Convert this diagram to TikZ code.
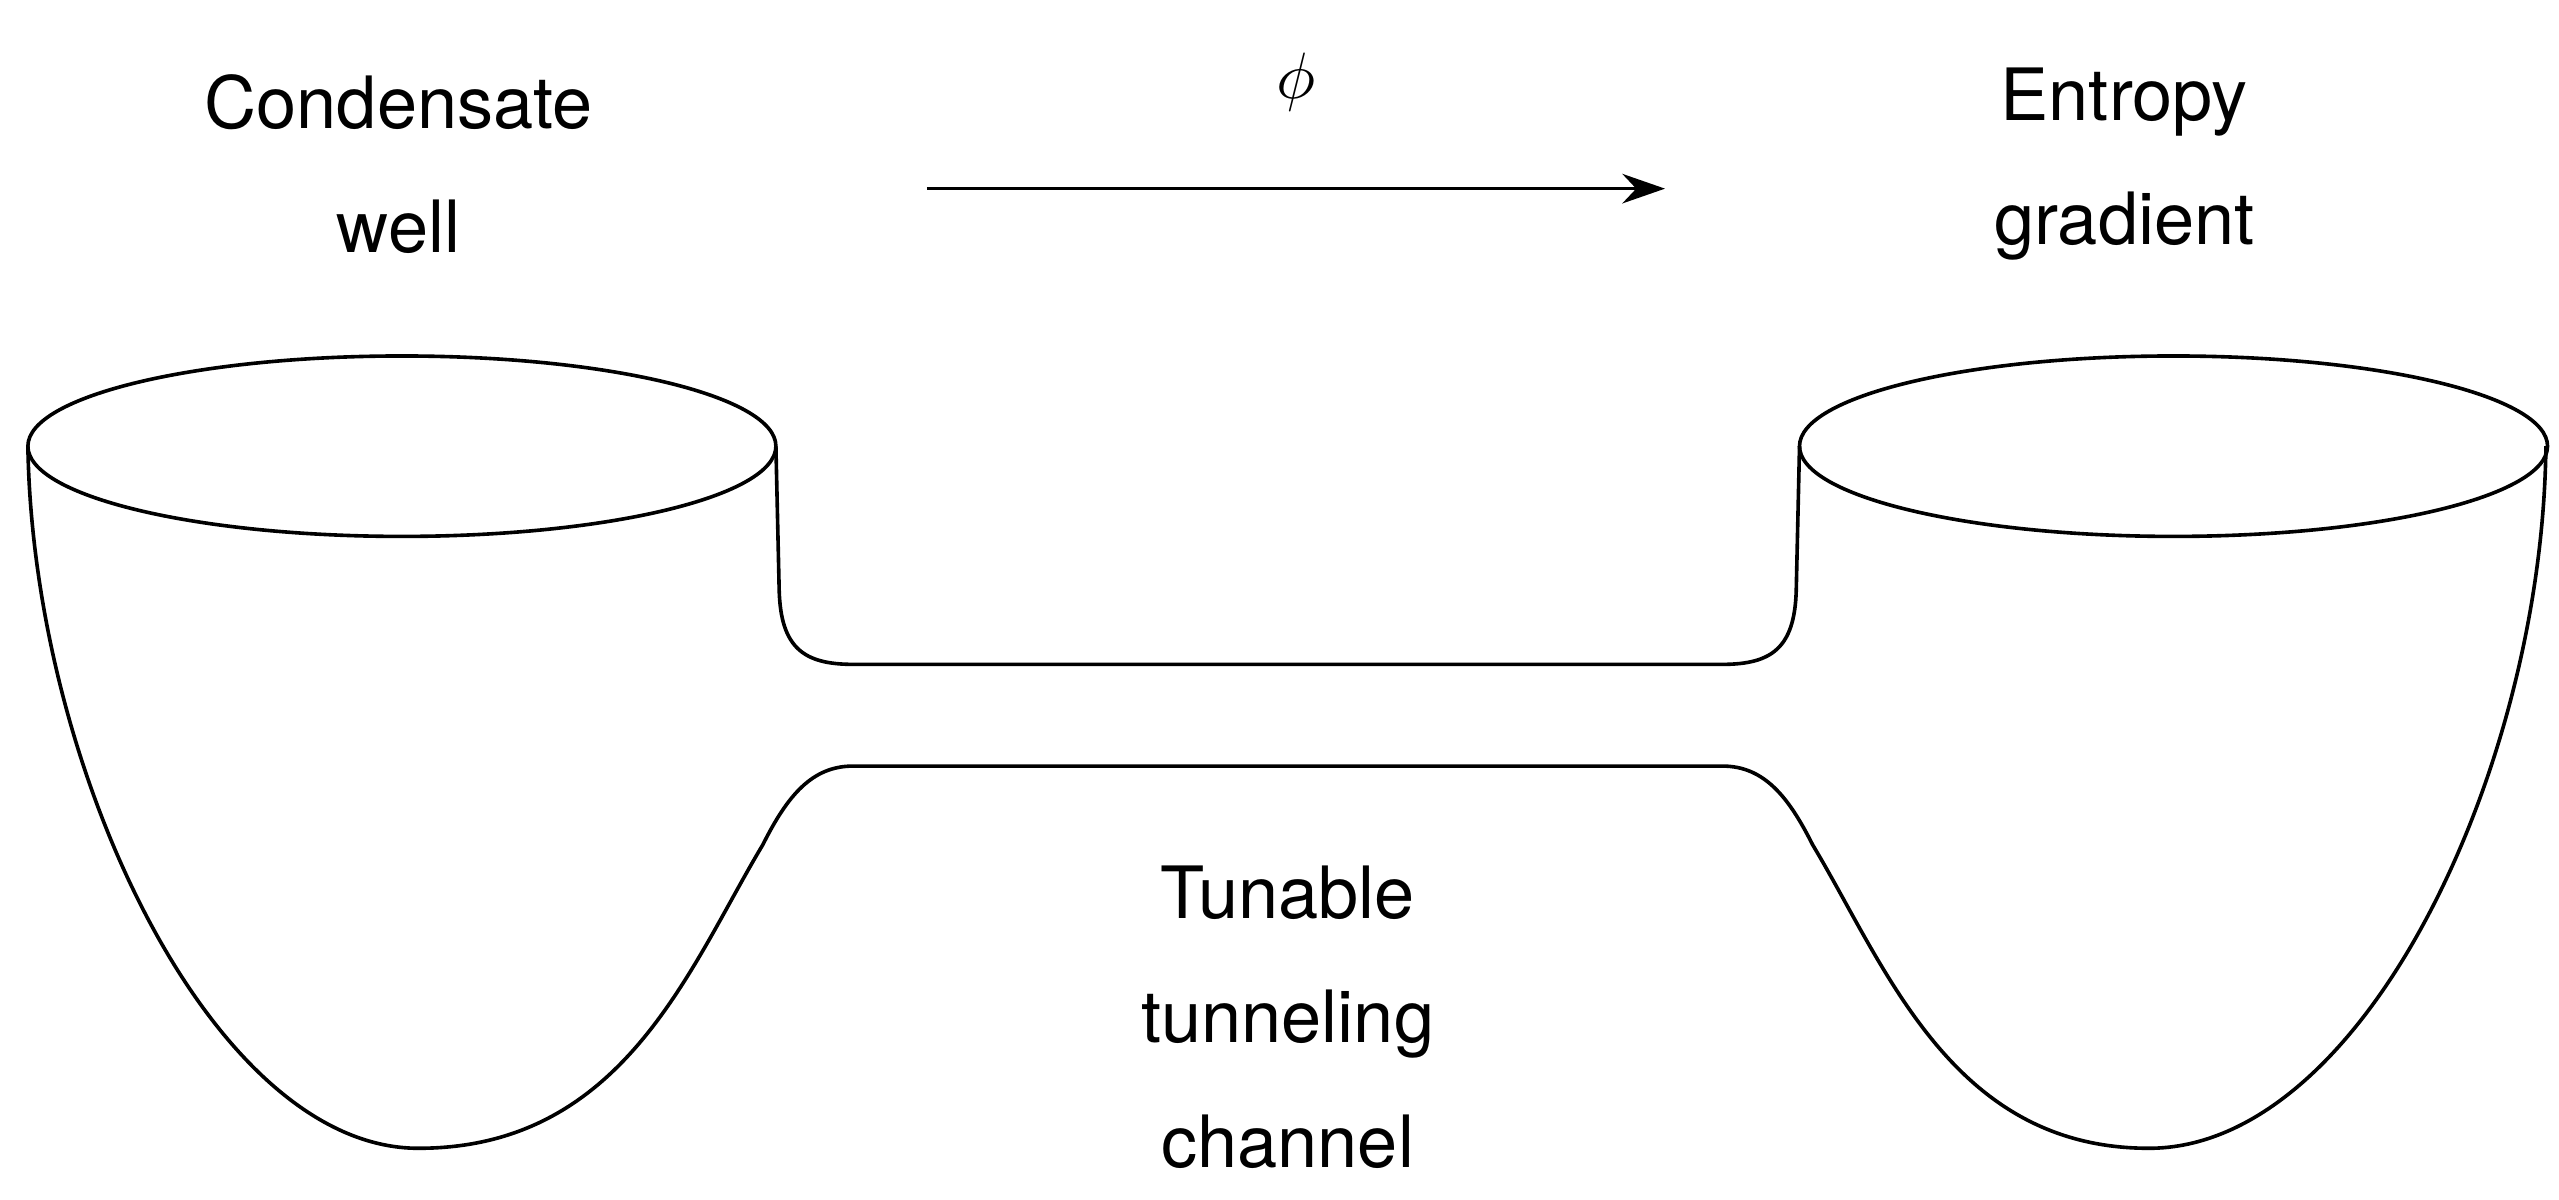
\documentclass[tikz,border=0pt]{standalone}
\usepackage{fontspec}
\setmainfont{TeX Gyre Heros}
\usetikzlibrary{arrows.meta}
\begin{document}
\begin{tikzpicture}[x=1pt,y=-1pt,line width=2.2pt,
  lbl/.style={align=center,font=\fontsize{44}{76}\selectfont}]
\useasboundingbox (0,0) rectangle (1560,731);
\node[lbl] (cw) at (243,100) {Condensate\\well};
\node[lbl] (eg) at (1295,100) {Entropy\\gradient};
\node[lbl] (tc) at (785,620) {Tunable\\tunneling\\channel};
\node (phi) at (790,50) {\scalebox{4}{$\phi$}};
\coordinate (a1) at (565,115);
\coordinate (a2) at (1015,115);
\draw[-{Stealth[length=26pt,width=18pt]},line width=2pt] (a1) -- (a2);
\draw (245,272) ellipse [x radius=228, y radius=55];
\draw (1325,272) ellipse [x radius=228, y radius=55];
\draw (473,272) -- (475,360) .. controls (476,395) and (490,405) .. (520,405)
  -- (1050,405) .. controls (1080,405) and (1094,395) .. (1095,360) -- (1097,272);
\draw (17,272) .. controls (20,470) and (130,700) .. (255,700)
  .. controls (380,700) and (420,590) .. (465,515)
  .. controls (480,485) and (495,467) .. (520,467) -- (1050,467)
  .. controls (1075,467) and (1090,485) .. (1105,515)
  .. controls (1150,590) and (1190,700) .. (1310,700)
  .. controls (1440,700) and (1550,470) .. (1552,272);
\end{tikzpicture}
\end{document}
